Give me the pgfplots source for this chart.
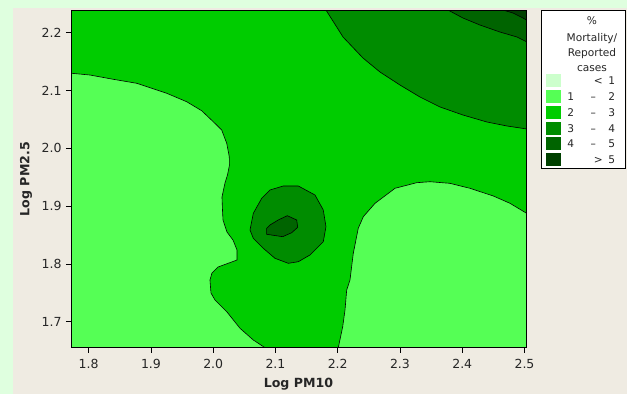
\documentclass[border=0pt]{standalone}
\usepackage{fontspec}
\setmainfont{DejaVu Sans}
\usepackage{pgfplots}
\pgfplotsset{compat=1.18}
\definecolor{outerbg}{HTML}{DFFFDF}
\definecolor{panel}{HTML}{EFEBE2}
\definecolor{c0}{HTML}{CCFFCC}
\definecolor{c1}{HTML}{55FF55}
\definecolor{c2}{HTML}{00CC00}
\definecolor{c3}{HTML}{008C00}
\definecolor{c4}{HTML}{006400}
\definecolor{c5}{HTML}{004000}
\begin{document}
\begin{tikzpicture}
\useasboundingbox (0pt,0pt) rectangle (627pt,394pt);
\fill[outerbg] (0pt,0pt) rectangle (627pt,394pt);
\fill[panel] (13pt,0pt) rectangle (627pt,386pt);
\begin{axis}[
  at={(71pt,46.3pt)}, anchor=south west,
  scale only axis, width=455pt, height=337.4pt,
  xmin=1.7716, xmax=2.5024, ymin=1.655, ymax=2.2388,
  axis on top,
  axis background/.style={fill=c2},
  axis line style={black, line width=0.7pt},
  xtick={1.8,1.9,2.0,2.1,2.2,2.3,2.4,2.5},
  ytick={1.7,1.8,1.9,2.0,2.1,2.2},
  tick pos=left, tick align=outside,
  major tick length=5pt,
  tick style={black, line width=0.6pt},
  /pgf/number format/assume math mode=true,
  /pgf/number format/.cd, fixed, fixed zerofill, precision=1, /pgfplots/.cd,
  ticklabel style={font=\fontsize{12.5}{15}\selectfont, text=black!85},
  xticklabel style={inner sep=0pt, anchor=north, yshift=-6.6pt},
  yticklabel style={inner sep=0pt, anchor=east, xshift=-4.3pt},
  xlabel={\textbf{Log PM10}}, ylabel={\textbf{Log PM2.5}},
  label style={font=\fontsize{12.6}{15}\selectfont, text=black!85},
  xlabel style={at={(axis description cs:0.5,0)}, anchor=center, yshift=-36.1pt},
  ylabel style={at={(axis description cs:0,0.5)}, anchor=center, yshift=44.9pt},
  every axis plot/.append style={draw=black, line width=0.6pt},
]
% left 1-2 region
\addplot[fill=c1] coordinates {
(1.75,2.1298) (1.7727,2.1298) (1.8021,2.1268) (1.8395,2.1194) (1.8771,2.1125)
(1.9253,2.0952) (1.9574,2.0806) (1.9815,2.0650) (2.0001,2.0460) (2.0136,2.0317)
(2.0217,2.0087) (2.0258,1.9855) (2.0261,1.9711) (2.0229,1.9538) (2.0189,1.9400)
(2.0141,1.9157) (2.0149,1.8933) (2.0157,1.8760) (2.0221,1.8552) (2.0318,1.8413)
(2.0382,1.8241) (2.0382,1.8067) (2.0077,1.7946) (1.9980,1.7843) (1.9948,1.7721)
(1.9964,1.7497) (2.0029,1.7375) (2.0221,1.7168) (2.0430,1.6886) (2.0644,1.6683)
(2.0832,1.6550) (2.1040,1.6400) (1.75,1.64) (1.75,2.1298)};
% right 1-2 region
\addplot[fill=c1] coordinates {
(2.1980,1.6400) (2.2009,1.6550) (2.2080,1.6913) (2.2117,1.7202) (2.2144,1.7548)
(2.2197,1.7721) (2.2250,1.8183) (2.2330,1.8616) (2.2411,1.8817) (2.2599,1.9048)
(2.2920,1.9308) (2.3268,1.9405) (2.3482,1.9422) (2.3803,1.9394) (2.4124,1.9308)
(2.4499,1.9175) (2.4767,1.9048) (2.5035,1.8875) (2.5200,1.8770) (2.52,1.64) (2.1980,1.6400)};
% top-right 3-4 region
\addplot[fill=c3] coordinates {
(2.1719,2.255) (2.1811,2.2393) (2.2085,2.1926) (2.2406,2.1562) (2.2679,2.1320)
(2.3000,2.1095) (2.3321,2.0888) (2.3643,2.0715) (2.4012,2.0576) (2.4397,2.0455)
(2.4719,2.0386) (2.5040,2.0334) (2.52,2.031) (2.52,2.255) (2.1719,2.255)};
% top-right 4-5 region
\addplot[fill=c4] coordinates {
(2.3499,2.255) (2.3771,2.2393) (2.4012,2.2254) (2.4285,2.2133) (2.4606,2.2012)
(2.4879,2.1926) (2.5040,2.1839) (2.52,2.177) (2.52,2.255) (2.3499,2.255)};
% top-right >5 region
\addplot[fill=c5] coordinates {
(2.4168,2.255) (2.4654,2.2393) (2.4815,2.2341) (2.4976,2.2254) (2.52,2.212)
(2.52,2.255) (2.4168,2.255)};
% central 3-4 island
\addplot[fill=c3] coordinates {
(2.0591,1.8586) (2.0644,1.8875) (2.0779,1.9135) (2.0912,1.9279) (2.1126,1.9348)
(2.1367,1.9348) (2.1635,1.9192) (2.1768,1.8933) (2.1811,1.8644) (2.1768,1.8384)
(2.1554,1.8154) (2.1367,1.8038) (2.1206,1.8010) (2.0992,1.8097) (2.0804,1.8270)
(2.0644,1.8443) (2.0591,1.8586)};
% central 4-5 island
\addplot[fill=c4] coordinates {
(2.0859,1.8616) (2.0912,1.8673) (2.1045,1.8760) (2.1190,1.8834) (2.1341,1.8760)
(2.1357,1.8633) (2.1261,1.8540) (2.1116,1.8471) (2.0859,1.8512) (2.0859,1.8616)};
\end{axis}
% legend
\fill[white, draw=black, line width=0.6pt] (541.7pt,226pt) rectangle (625.6pt,384pt);
\begin{scope}[every node/.style={font=\fontsize{10.6}{12}\selectfont, text=black!85, inner sep=0pt}]
\node at (592pt,373pt) {\%};
\node at (592pt,355pt) {Mortality/};
\node at (592pt,340pt) {Reported};
\node at (592pt,325pt) {cases};
\foreach \c/\yy in {c0/313,c1/297.3,c2/281.3,c3/265.7,c4/250,c5/234}{
  \fill[\c] (545.7pt,\yy pt-6.5pt) rectangle (560.7pt,\yy pt+6.5pt);
}
\begin{scope}[every node/.append style={anchor=base}]
\node at (598.3pt,309.1pt) {<}; \node at (611.7pt,309.1pt) {1};
\foreach \a/\b/\yy in {1/2/293.4,2/3/277.4,3/4/261.8,4/5/246.1}{
  \node at (570.7pt,\yy pt) {\a}; \node at (593.3pt,\yy pt) {–}; \node at (611.7pt,\yy pt) {\b};
}
\node at (598.3pt,230.1pt) {>}; \node at (611.7pt,230.1pt) {5};
\end{scope}
\end{scope}
\end{tikzpicture}
\end{document}
